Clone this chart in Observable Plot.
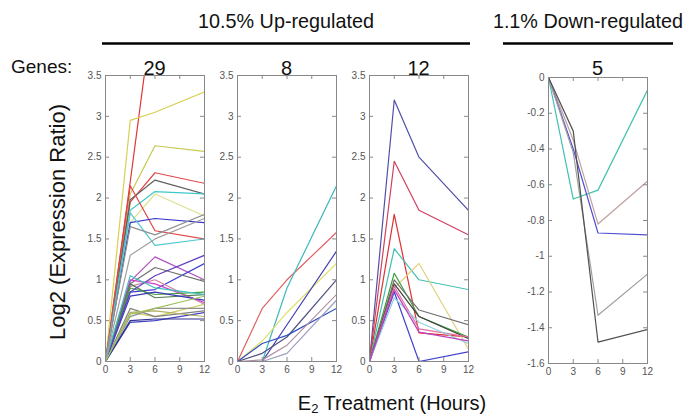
<!DOCTYPE html>
<html><head><meta charset="utf-8">
<script src="https://cdn.jsdelivr.net/npm/d3@7"></script>
<script src="https://cdn.jsdelivr.net/npm/@observablehq/plot@0.6"></script>
<style>
body{margin:0;background:#fff;overflow:hidden;}
#root{position:relative;width:688px;height:419px;font-family:"Liberation Sans",Arial,sans-serif;}
.panel{position:absolute;}
#overlay{position:absolute;left:0;top:0;pointer-events:none;}
</style></head><body><div id="root"></div>
<script>
// ---- data ----
const hours = [0, 3, 6, 12];
const xTicks = [0, 3, 6, 9, 12];
const upTicks = [0, 0.5, 1, 1.5, 2, 2.5, 3, 3.5];
const downTicks = [0, -0.2, -0.4, -0.6, -0.8, -1, -1.2, -1.4, -1.6];
const geneCounts = [29, 8, 12, 5];
const groupLabels = ["10.5% Up-regulated", "1.1% Down-regulated"];

// cluster 1: 29 genes, values at 0,3,6,12 h
const cluster1 = [
  [0, 2.2, 4.5, 4.6],
  [0, 2.95, 3.05, 3.3],
  [0, 2.05, 2.64, 2.57],
  [0, 1.95, 2.31, 2.18],
  [0, 1.98, 2.22, 2.05],
  [0, 1.85, 2.08, 2.05],
  [0, 1.7, 2.05, 1.78],
  [0, 2.15, 1.6, 1.5],
  [0, 1.7, 1.75, 1.7],
  [0, 1.82, 1.42, 1.5],
  [0, 1.65, 1.55, 1.8],
  [0, 0.98, 1.28, 1.0],
  [0, 0.85, 0.88, 1.2],
  [0, 0.95, 1.15, 0.98],
  [0, 1.0, 0.95, 0.72],
  [0, 0.92, 1.0, 0.7],
  [0, 0.9, 0.82, 0.85],
  [0, 0.95, 0.78, 0.82],
  [0, 0.8, 0.85, 0.75],
  [0, 0.6, 0.55, 0.7],
  [0, 0.65, 0.55, 0.62],
  [0, 0.48, 0.5, 0.6],
  [0, 0.55, 0.65, 0.65],
  [0, 0.6, 0.62, 0.55],
  [0, 0.5, 0.52, 0.52],
  [0, 0.85, 1.05, 1.3],
  [0, 1.05, 0.9, 0.82],
  [0, 1.3, 1.5, 1.75],
  [0, 0.58, 0.65, 0.8]
];
const cluster2 = [
  [0, 0.65, 1.0, 1.58],
  [0, 0, 0.9, 2.15],
  [0, 0.25, 0.6, 1.2],
  [0, 0, 0.45, 1.35],
  [0, 0.1, 0.3, 1.0],
  [0, 0.22, 0.32, 0.65],
  [0, 0.02, 0.2, 0.82],
  [0, 0, 0.1, 0.75]
];
const cluster3 = [
  [0, 3.2, 2.5, 1.85],
  [0, 2.45, 1.85, 1.55],
  [0, 1.8, 0.35, 0.3],
  [0, 1.38, 1.0, 0.88],
  [0, 0.9, 1.2, 0.15],
  [0, 1.08, 0.55, 0.3],
  [0, 1.0, 0.63, 0.45],
  [0, 0.95, 0.55, 0.28],
  [0, 0.92, 0.4, 0.3],
  [0, 0.85, 0.0, 0.12],
  [0, 0.78, 0.48, 0.22],
  [0, 0.88, 0.36, 0.25]
];
const cluster4 = [
  [0, -0.68, -0.63, -0.07],
  [0, -0.35, -0.82, -0.58],
  [0, -0.4, -0.87, -0.88],
  [0, -0.42, -1.33, -1.1],
  [0, -0.3, -1.48, -1.41]
];

// ---- styles ----
const colors1 = ["#e03535","#d8d050","#c8c850","#e04848","#606060","#40c8c8","#e0e090","#e04545","#3535d0","#50c8d0",
  "#909090","#b050c0","#4040d0","#707070","#d040d0","#d080a0","#40a040","#508050","#3838b8","#d0d060",
  "#808080","#4040c0","#909090","#b0b060","#303090","#6040c0","#40c0c0","#a0a0a0","#a0c060"];
const colors2 = ["#e06060","#40b8b8","#e0e070","#4040b0","#505080","#3050c0","#b090a0","#a0a0c0"];
const colors3 = ["#5050a8","#d04060","#e03030","#40c0b0","#e0d080","#40a040","#707070","#404040","#e070a0","#4040d0","#90d0e0","#c040c0"];
const colors4 = ["#40c0b0","#c0a0a0","#5050d0","#a0a0a0","#505050"];

const root = document.getElementById("root");
const innerH = 286;
const innerW = 99;

function panel(series, colors, yDomain, yTicks, frameLeft, frameTop) {
  const data = series.flatMap((vals, i) => vals.map((v, j) => ({id: i, hour: hours[j], value: v, color: colors[i % colors.length]})));
  const mL = 30, mR = 5, mT = 6, mB = 22;
  const tl = 4;
  const p = Plot.plot({
    width: mL + innerW + mR, height: mT + innerH + mB,
    marginLeft: mL, marginRight: mR, marginTop: mT, marginBottom: mB,
    x: {domain: [0, 12]},
    y: {domain: yDomain},
    color: {type: "identity"},
    style: {fontFamily: '"Liberation Sans", Arial, sans-serif', fontSize: "10px", color: "#555", background: "transparent", overflow: "visible"},
    marks: [
      Plot.line(data, {x: "hour", y: "value", z: "id", stroke: "color", strokeWidth: 1.2, clip: true}),
      Plot.frame({stroke: "#888"}),
      Plot.tickX(xTicks, {x: d => d, stroke: "#888", insetTop: innerH - tl}),
      Plot.tickX(xTicks, {x: d => d, stroke: "#888", insetBottom: innerH - tl}),
      Plot.tickY(yTicks, {y: d => d, stroke: "#888", insetRight: innerW - tl}),
      Plot.tickY(yTicks, {y: d => d, stroke: "#888", insetLeft: innerW - tl}),
      Plot.axisX({ticks: xTicks, tickSize: 0, tickPadding: 4, label: null, tickFormat: d => String(d)}),
      Plot.axisY({ticks: yTicks, tickSize: 0, tickPadding: 4, label: null, tickFormat: d => String(d)})
    ]
  });
  p.classList.add("panel");
  p.style.left = (frameLeft - mL) + "px";
  p.style.top = (frameTop - mT) + "px";
  root.appendChild(p);
}

const frameLefts = [105, 237, 369, 548];
const frameTops = [75, 75, 75, 77];
panel(cluster1, colors1, [0, 3.5], upTicks, frameLefts[0], frameTops[0]);
panel(cluster2, colors2, [0, 3.5], upTicks, frameLefts[1], frameTops[1]);
panel(cluster3, colors3, [0, 3.5], upTicks, frameLefts[2], frameTops[2]);
panel(cluster4, colors4, [-1.6, 0], downTicks, frameLefts[3], frameTops[3]);

// ---- overlay text ----
const ns = "http://www.w3.org/2000/svg";
const ov = document.createElementNS(ns, "svg");
ov.setAttribute("id", "overlay");
ov.setAttribute("width", 688); ov.setAttribute("height", 419);
root.appendChild(ov);
function txt(s, x, y, size, anchor, extra) {
  const t = document.createElementNS(ns, "text");
  t.setAttribute("x", x); t.setAttribute("y", y);
  t.setAttribute("font-size", size); t.setAttribute("text-anchor", anchor || "middle");
  t.setAttribute("fill", "#111");
  t.setAttribute("font-family", '"Liberation Sans", Arial, sans-serif');
  if (extra) for (const k in extra) t.setAttribute(k, extra[k]);
  t.textContent = s;
  ov.appendChild(t);
  return t;
}
function hline(x1, x2, y) {
  const l = document.createElementNS(ns, "line");
  l.setAttribute("x1", x1); l.setAttribute("x2", x2); l.setAttribute("y1", y); l.setAttribute("y2", y);
  l.setAttribute("stroke", "#000"); l.setAttribute("stroke-width", 2.5);
  ov.appendChild(l);
}
txt(groupLabels[0], 286, 28, 19.8);
hline(102, 470, 43.5);
txt(groupLabels[1], 588, 28, 19.8);
hline(503, 673, 43.5);
txt("Genes:", 11, 73, 19, "start");
geneCounts.forEach((g, i) => txt(String(g), frameLefts[i] + 49.5, 75, 20));
txt("Log2 (Expression Ratio)", 0, 0, 22, "middle", {transform: "translate(65,222) rotate(-90)"});
const xt = txt("", 392, 410, 20);
const e = document.createElementNS(ns, "tspan"); e.textContent = "E"; xt.appendChild(e);
const sub = document.createElementNS(ns, "tspan"); sub.textContent = "2"; sub.setAttribute("font-size", 13); sub.setAttribute("dy", 3); xt.appendChild(sub);
const rest = document.createElementNS(ns, "tspan"); rest.textContent = " Treatment (Hours)"; rest.setAttribute("dy", -3); xt.appendChild(rest);
</script></body></html>
